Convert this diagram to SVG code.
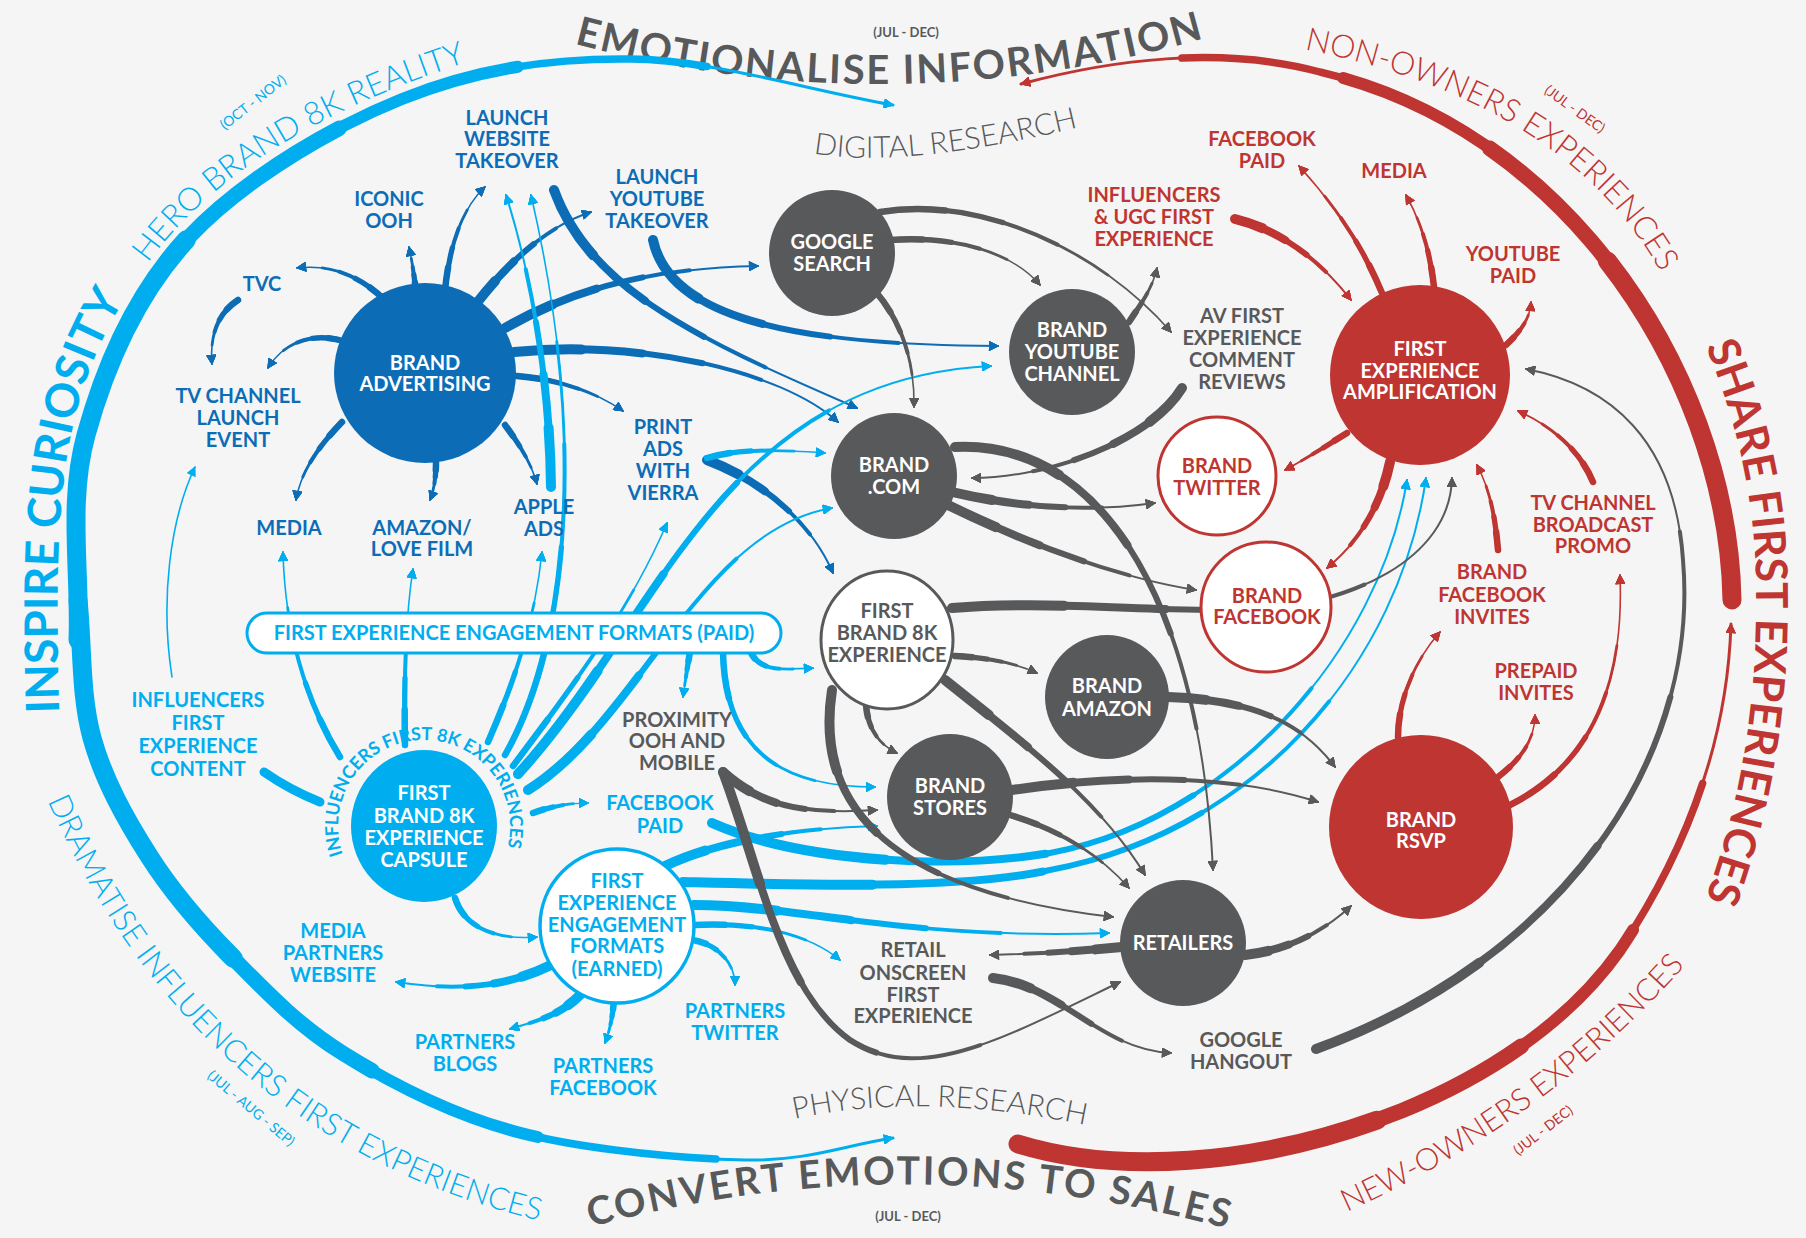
<svg xmlns="http://www.w3.org/2000/svg" xmlns:xlink="http://www.w3.org/1999/xlink" width="1806" height="1238" viewBox="0 0 1806 1238">
<style>
.cn{fill:none;stroke-linecap:round}
.db{stroke:#0c6db6;marker-end:url(#adb)}
.lb{stroke:#00aeef;marker-end:url(#alb)}
.gy{stroke:#58595b;marker-end:url(#agy)}
.rd{stroke:#be3532;marker-end:url(#ard)}
.a{stroke-dasharray:20 200}
.b{stroke-dasharray:38 200}
.c{stroke-dasharray:56 200}
.e{stroke-dasharray:74 200}
.L{stroke-width:2}
.L .a{stroke-width:10}.L .b{stroke-width:8}.L .c{stroke-width:6}.L .e{stroke-width:4}
.M{stroke-width:1.6}
.M .a{stroke-width:6.5}.M .b{stroke-width:5.3}.M .c{stroke-width:4}.M .e{stroke-width:2.8}
.S{stroke-width:1.6}
.X{stroke-width:3}
.X .a{stroke-width:19;stroke-dasharray:36 200}.X .b{stroke-width:15.5;stroke-dasharray:52 200}.X .c{stroke-width:12;stroke-dasharray:68 200}.X .e{stroke-width:7.5;stroke-dasharray:84 200}
.plain{fill:none;stroke:#00aeef;stroke-width:9;stroke-linecap:round}
.t{font-family:Lato,"Open Sans","Liberation Sans",sans-serif;font-weight:700;font-size:20px;text-anchor:middle}
.cap{font-family:Lato,"Open Sans","Liberation Sans",sans-serif}
.fdb{fill:#0c6db6}.flb{fill:#00aeef}.fgy{fill:#58595b}.frd{fill:#be3532}.fwh{fill:#fff}
.ngy{fill:#58595b}
.nrd{fill:#be3532}
</style>
<defs>
<marker id="adb" viewBox="0 0 10 10" refX="9" refY="5" markerWidth="11" markerHeight="10" markerUnits="userSpaceOnUse" orient="auto"><path d="M0,0 L10,5 L0,10 z" fill="#0c6db6"/></marker>
<marker id="alb" viewBox="0 0 10 10" refX="9" refY="5" markerWidth="11" markerHeight="10" markerUnits="userSpaceOnUse" orient="auto"><path d="M0,0 L10,5 L0,10 z" fill="#00aeef"/></marker>
<marker id="agy" viewBox="0 0 10 10" refX="9" refY="5" markerWidth="11" markerHeight="10" markerUnits="userSpaceOnUse" orient="auto"><path d="M0,0 L10,5 L0,10 z" fill="#58595b"/></marker>
<marker id="ard" viewBox="0 0 10 10" refX="9" refY="5" markerWidth="11" markerHeight="10" markerUnits="userSpaceOnUse" orient="auto"><path d="M0,0 L10,5 L0,10 z" fill="#be3532"/></marker>
<!-- baselines for curved captions -->
<path id="tEmo" d="M 575,44 Q 890,127 1205,38"/>
<path id="tConv" d="M 560,1236 Q 905,1132 1260,1238"/>
<path id="tHero" d="M 140,275 C 185,205 280,120 480,58"/>
<path id="tDig" d="M 812,153 Q 900,170 1080,127"/>
<path id="tPhys" d="M 790,1120 Q 920,1090 1090,1126"/>
<path id="tNon" d="M 1298,48 Q 1568,100 1664,278"/>
<path id="tNew" d="M 1340,1215 Q 1545,1125 1690,960"/>
<path id="tDram" d="M 45,795 Q 195,1140 545,1222"/>
<path id="tInsp" d="M 60,740 C 57,640 56,560 62,500 C 68,420 92,340 140,278"/>
<path id="tShare" d="M 1703,340 C 1745,440 1758,520 1756,620 C 1754,730 1735,820 1703,905"/>
<path id="tRing" d="M 349.5,869 A 86 86 0 1 1 502,862.3"/>
</defs>

<rect width="1806" height="1238" fill="#f5f5f5"/>

<!-- stage captions -->
<g id="captions">
<text class="cap" font-size="40" font-weight="700" fill="#58595b" letter-spacing="2"><textPath href="#tEmo" startOffset="50%" text-anchor="middle">EMOTIONALISE INFORMATION</textPath></text>
<text class="cap" font-size="13" font-weight="700" fill="#58595b" x="906" y="37" text-anchor="middle">(JUL - DEC)</text>
<text class="cap" font-size="39" font-weight="700" fill="#58595b" letter-spacing="2.5"><textPath href="#tConv" startOffset="50%" text-anchor="middle">CONVERT EMOTIONS TO SALES</textPath></text>
<text class="cap" font-size="13" font-weight="700" fill="#58595b" x="908" y="1221" text-anchor="middle">(JUL - DEC)</text>
<text class="cap" font-size="32" font-weight="300" fill="#00aeef"><textPath href="#tHero" startOffset="50%" text-anchor="middle">HERO BRAND 8K REALITY</textPath></text>
<text class="cap" font-size="14" font-weight="400" fill="#00aeef" text-anchor="middle" transform="translate(256,106) rotate(-38)">(OCT - NOV)</text>
<text class="cap" font-size="30" font-weight="300" fill="#58595b"><textPath href="#tDig" startOffset="50%" text-anchor="middle">DIGITAL RESEARCH</textPath></text>
<text class="cap" font-size="30" font-weight="300" fill="#58595b"><textPath href="#tPhys" startOffset="50%" text-anchor="middle">PHYSICAL RESEARCH</textPath></text>
<text class="cap" font-size="32" font-weight="300" fill="#be3532"><textPath href="#tNon" startOffset="50%" text-anchor="middle">NON-OWNERS EXPERIENCES</textPath></text>
<text class="cap" font-size="14" font-weight="400" fill="#be3532" text-anchor="middle" transform="translate(1572,113) rotate(36)">(JUL - DEC)</text>
<text class="cap" font-size="31" font-weight="300" fill="#be3532"><textPath href="#tNew" startOffset="50%" text-anchor="middle">NEW-OWNERS EXPERIENCES</textPath></text>
<text class="cap" font-size="14" font-weight="400" fill="#be3532" text-anchor="middle" transform="translate(1546,1134) rotate(-38)">(JUL - DEC)</text>
<text class="cap" font-size="31" font-weight="300" fill="#00aeef"><textPath href="#tDram" startOffset="50%" text-anchor="middle">DRAMATISE INFLUENCERS FIRST EXPERIENCES</textPath></text>
<text class="cap" font-size="14" font-weight="400" fill="#00aeef" text-anchor="middle" transform="translate(248,1112) rotate(40)">(JUL - AUG - SEP)</text>
<text class="cap" font-size="46" font-weight="700" fill="#00aeef"><textPath href="#tInsp" startOffset="50%" text-anchor="middle">INSPIRE CURIOSITY</textPath></text>
<text class="cap" font-size="44" font-weight="700" fill="#be3532"><textPath href="#tShare" startOffset="50%" text-anchor="middle">SHARE FIRST EXPERIENCES</textPath></text>
</g>

<!-- connectors: each one is stacked dashes of falling width, so it tapers toward its arrowhead -->
<g id="connectors">
<!-- outer arcs -->
<g class="cn lb X"><path id="arcT" pathLength="100" d="M 78,640 C 80.7,571.7 67.5,502.2 86,435 C 104.5,367.8 136.3,293 189,237 C 241.7,181 328.3,128.7 402,99 C 475.7,69.3 549.2,58 631,59 C 712.8,60 805.7,89.7 893,105"/><use href="#arcT" class="a"/><use href="#arcT" class="b"/><use href="#arcT" class="c"/><use href="#arcT" class="e"/></g>
<g class="cn lb X"><path id="arcB" pathLength="100" d="M 78,600 C 82.7,646 80.2,695.3 92,738 C 103.8,780.7 126,819.8 149,856 C 172,892.2 197.5,922 230,955 C 262.5,988 296.2,1024.5 344,1054 C 391.8,1083.5 450,1114.3 517,1132 C 584,1149.7 683.3,1159 746,1160 C 808.7,1161 844,1145.3 893,1138"/><use href="#arcB" class="a"/><use href="#arcB" class="b"/><use href="#arcB" class="c"/><use href="#arcB" class="e"/></g>
<g class="cn rd X"><path id="rarcT" pathLength="100" d="M 1732,600 C 1728,380 1570,130 1320,72 C 1220,45 1110,60 1021,84"/><use href="#rarcT" class="a"/><use href="#rarcT" class="b"/><use href="#rarcT" class="c"/><use href="#rarcT" class="e"/></g>
<g class="cn rd X"><path id="rarcB" pathLength="100" d="M 1018,1144 C 1200,1200 1500,1120 1620,950 C 1700,830 1728,720 1731,624"/><use href="#rarcB" class="a"/><use href="#rarcB" class="b"/><use href="#rarcB" class="c"/><use href="#rarcB" class="e"/></g>
<g class="cn gy L"><path id="garc" pathLength="100" d="M 1316,1049 C 1560,960 1700,760 1683,560 C 1675,440 1610,385 1526,369"/><use href="#garc" class="a"/><use href="#garc" class="b"/><use href="#garc" class="c"/><use href="#garc" class="e"/></g>

<!-- brand advertising -->
<g class="cn db M"><path id="b1" pathLength="100" d="M 385,300 Q 345,262 297,268"/><use href="#b1" class="a"/><use href="#b1" class="b"/><use href="#b1" class="c"/><use href="#b1" class="e"/></g>
<g class="cn db M"><path id="b2" pathLength="100" d="M 346,342 C 310,330 282,345 268,368"/><use href="#b2" class="a"/><use href="#b2" class="b"/><use href="#b2" class="c"/><use href="#b2" class="e"/></g>
<g class="cn db M"><path id="b3" pathLength="100" d="M 416,292 Q 413,265 409,247"/><use href="#b3" class="a"/><use href="#b3" class="b"/><use href="#b3" class="c"/><use href="#b3" class="e"/></g>
<g class="cn db M"><path id="b4" pathLength="100" d="M 445,290 C 450,240 465,205 485,187"/><use href="#b4" class="a"/><use href="#b4" class="b"/><use href="#b4" class="c"/><use href="#b4" class="e"/></g>
<g class="cn db L"><path id="b5" pathLength="100" d="M 476,304 C 510,260 550,225 591,212"/><use href="#b5" class="a"/><use href="#b5" class="b"/><use href="#b5" class="c"/><use href="#b5" class="e"/></g>
<g class="cn db L"><path id="b6" pathLength="100" d="M 505,328 C 580,285 660,268 758,266"/><use href="#b6" class="a"/><use href="#b6" class="b"/><use href="#b6" class="c"/><use href="#b6" class="e"/></g>
<g class="cn db L"><path id="b7" pathLength="100" d="M 514,352 C 640,340 780,370 838,422"/><use href="#b7" class="a"/><use href="#b7" class="b"/><use href="#b7" class="c"/><use href="#b7" class="e"/></g>
<g class="cn db M"><path id="b8" pathLength="100" d="M 517,376 C 565,380 600,395 623,411"/><use href="#b8" class="a"/><use href="#b8" class="b"/><use href="#b8" class="c"/><use href="#b8" class="e"/></g>
<g class="cn db M"><path id="b9" pathLength="100" d="M 342,422 C 315,450 300,475 296,500"/><use href="#b9" class="a"/><use href="#b9" class="b"/><use href="#b9" class="c"/><use href="#b9" class="e"/></g>
<g class="cn db M"><path id="b10" pathLength="100" d="M 436,462 Q 436,485 430,500"/><use href="#b10" class="a"/><use href="#b10" class="b"/><use href="#b10" class="c"/><use href="#b10" class="e"/></g>
<g class="cn db M"><path id="b11" pathLength="100" d="M 505,425 C 520,445 532,465 537,484"/><use href="#b11" class="a"/><use href="#b11" class="b"/><use href="#b11" class="c"/><use href="#b11" class="e"/></g>
<g class="cn db M"><path id="b12" pathLength="100" d="M 238,300 C 215,315 210,340 212,364"/><use href="#b12" class="a"/><use href="#b12" class="b"/><use href="#b12" class="c"/><use href="#b12" class="e"/></g>
<g class="cn db L"><path id="b13" pathLength="100" d="M 554,190 C 590,290 700,340 857,408"/><use href="#b13" class="a"/><use href="#b13" class="b"/><use href="#b13" class="c"/><use href="#b13" class="e"/></g>
<g class="cn db L"><path id="b14" pathLength="100" d="M 653,240 C 670,320 800,345 998,346"/><use href="#b14" class="a"/><use href="#b14" class="b"/><use href="#b14" class="c"/><use href="#b14" class="e"/></g>
<g class="cn db L"><path id="b15" pathLength="100" d="M 707,460 C 760,480 810,520 833,573"/><use href="#b15" class="a"/><use href="#b15" class="b"/><use href="#b15" class="c"/><use href="#b15" class="e"/></g>

<!-- first experience formats -->
<g class="cn lb M"><path id="l1" pathLength="100" d="M 707,458 C 740,448 780,450 825,453"/><use href="#l1" class="a"/><use href="#l1" class="b"/><use href="#l1" class="c"/><use href="#l1" class="e"/></g>
<g class="cn lb M"><path id="l2" pathLength="100" d="M 748,645 C 755,672 780,670 813,668"/><use href="#l2" class="a"/><use href="#l2" class="b"/><use href="#l2" class="c"/><use href="#l2" class="e"/></g>
<g class="cn lb M"><path id="l3" pathLength="100" d="M 690,652 Q 686,675 683,697"/><use href="#l3" class="a"/><use href="#l3" class="b"/><use href="#l3" class="c"/><use href="#l3" class="e"/></g>
<g class="cn lb M"><path id="l4" pathLength="100" d="M 723,652 C 725,750 780,787 875,787"/><use href="#l4" class="a"/><use href="#l4" class="b"/><use href="#l4" class="c"/><use href="#l4" class="e"/></g>
<g class="cn lb M"><path id="l5" pathLength="100" d="M 533,813 Q 560,803 588,803"/><use href="#l5" class="a"/><use href="#l5" class="b"/><use href="#l5" class="c"/><use href="#l5" class="e"/></g>
<g class="cn lb M"><path id="l6" pathLength="100" d="M 488,742 C 515,680 535,620 542,552"/><use href="#l6" class="a"/><use href="#l6" class="b"/><use href="#l6" class="c"/><use href="#l6" class="e"/></g>
<g class="cn lb M"><path id="l7" pathLength="100" d="M 505,755 C 565,650 590,450 531,195"/><use href="#l7" class="a"/><use href="#l7" class="b"/><use href="#l7" class="c"/><use href="#l7" class="e"/></g>
<g class="cn lb M"><path id="l8" pathLength="100" d="M 513,766 C 570,690 630,610 667,523"/><use href="#l8" class="a"/><use href="#l8" class="b"/><use href="#l8" class="c"/><use href="#l8" class="e"/></g>
<g class="cn lb L"><path id="l9" pathLength="100" d="M 518,774 C 660,620 720,380 991,366"/><use href="#l9" class="a"/><use href="#l9" class="b"/><use href="#l9" class="c"/><use href="#l9" class="e"/></g>
<g class="cn lb L"><path id="l10" pathLength="100" d="M 528,790 C 640,720 700,530 832,508"/><use href="#l10" class="a"/><use href="#l10" class="b"/><use href="#l10" class="c"/><use href="#l10" class="e"/></g>
<g class="cn lb M"><path id="l11" pathLength="100" d="M 340,757 C 305,700 285,630 283,552"/><use href="#l11" class="a"/><use href="#l11" class="b"/><use href="#l11" class="c"/><use href="#l11" class="e"/></g>
<g class="cn lb M"><path id="l12" pathLength="100" d="M 405,745 C 404,690 405,620 413,569"/><use href="#l12" class="a"/><use href="#l12" class="b"/><use href="#l12" class="c"/><use href="#l12" class="e"/></g>
<path class="plain" d="M 264,772 Q 290,790 320,802"/>
<path class="cn lb S" d="M 172,677 C 160,600 170,520 195,467"/>
<g class="cn lb M"><path id="l15" pathLength="100" d="M 455,898 C 465,930 500,940 537,937"/><use href="#l15" class="a"/><use href="#l15" class="b"/><use href="#l15" class="c"/><use href="#l15" class="e"/></g>
<g class="cn lb L"><path id="l16" pathLength="100" d="M 551,487 C 550,380 530,270 506,195"/><use href="#l16" class="a"/><use href="#l16" class="b"/><use href="#l16" class="c"/><use href="#l16" class="e"/></g>
<g class="cn lb L"><path id="e1" pathLength="100" d="M 551,965 C 500,990 450,990 396,982"/><use href="#e1" class="a"/><use href="#e1" class="b"/><use href="#e1" class="c"/><use href="#e1" class="e"/></g>
<g class="cn lb L"><path id="e2" pathLength="100" d="M 580,995 C 560,1015 540,1020 510,1029"/><use href="#e2" class="a"/><use href="#e2" class="b"/><use href="#e2" class="c"/><use href="#e2" class="e"/></g>
<g class="cn lb M"><path id="e3" pathLength="100" d="M 614,1000 Q 612,1025 605,1043"/><use href="#e3" class="a"/><use href="#e3" class="b"/><use href="#e3" class="c"/><use href="#e3" class="e"/></g>
<g class="cn lb M"><path id="e4" pathLength="100" d="M 693,940 C 720,945 735,965 735,985"/><use href="#e4" class="a"/><use href="#e4" class="b"/><use href="#e4" class="c"/><use href="#e4" class="e"/></g>
<g class="cn lb M"><path id="e5" pathLength="100" d="M 694,925 C 760,922 810,935 840,960"/><use href="#e5" class="a"/><use href="#e5" class="b"/><use href="#e5" class="c"/><use href="#e5" class="e"/></g>
<g class="cn lb L"><path id="e6" pathLength="100" d="M 694,905 C 800,905 900,940 1109,933"/><use href="#e6" class="a"/><use href="#e6" class="b"/><use href="#e6" class="c"/><use href="#e6" class="e"/></g>
<g class="cn lb L"><path id="e7" pathLength="100" d="M 683,882 C 800,885 960,890 1050,870 C 1260,830 1400,660 1426,478"/><use href="#e7" class="a"/><use href="#e7" class="b"/><use href="#e7" class="c"/><use href="#e7" class="e"/></g>
<g class="cn lb L"><path id="e8" pathLength="100" d="M 665,866 C 720,840 800,828 877,826"/><use href="#e8" class="a"/><use href="#e8" class="b"/><use href="#e8" class="c"/><use href="#e8" class="e"/></g>
<g class="cn lb L"><path id="fbp" pathLength="100" d="M 712,823 C 800,862 950,870 1050,853 C 1230,820 1380,650 1407,480"/><use href="#fbp" class="a"/><use href="#fbp" class="b"/><use href="#fbp" class="c"/><use href="#fbp" class="e"/></g>

<!-- research paths -->
<g class="cn gy M"><path id="g1" pathLength="100" d="M 890,240 C 960,235 1015,255 1040,285"/><use href="#g1" class="a"/><use href="#g1" class="b"/><use href="#g1" class="c"/><use href="#g1" class="e"/></g>
<g class="cn gy M"><path id="g2" pathLength="100" d="M 880,212 C 980,195 1100,250 1171,332"/><use href="#g2" class="a"/><use href="#g2" class="b"/><use href="#g2" class="c"/><use href="#g2" class="e"/></g>
<g class="cn gy M"><path id="g3" pathLength="100" d="M 876,292 C 900,320 915,360 914,407"/><use href="#g3" class="a"/><use href="#g3" class="b"/><use href="#g3" class="c"/><use href="#g3" class="e"/></g>
<g class="cn gy M"><path id="g4" pathLength="100" d="M 1129,322 C 1140,305 1152,290 1157,268"/><use href="#g4" class="a"/><use href="#g4" class="b"/><use href="#g4" class="c"/><use href="#g4" class="e"/></g>
<g class="cn gy L"><path id="g5" pathLength="100" d="M 1182,388 C 1150,440 1050,478 972,478"/><use href="#g5" class="a"/><use href="#g5" class="b"/><use href="#g5" class="c"/><use href="#g5" class="e"/></g>
<g class="cn gy L"><path id="g6" pathLength="100" d="M 952,492 C 1020,508 1090,512 1155,503"/><use href="#g6" class="a"/><use href="#g6" class="b"/><use href="#g6" class="c"/><use href="#g6" class="e"/></g>
<g class="cn gy L"><path id="g7" pathLength="100" d="M 948,505 C 1040,550 1130,580 1196,590"/><use href="#g7" class="a"/><use href="#g7" class="b"/><use href="#g7" class="c"/><use href="#g7" class="e"/></g>
<g class="cn gy L"><path id="g8" pathLength="100" d="M 955,447 C 1100,440 1200,600 1213,870"/><use href="#g8" class="a"/><use href="#g8" class="b"/><use href="#g8" class="c"/><use href="#g8" class="e"/></g>
<g class="cn gy L"><path id="g9" pathLength="100" d="M 952,608 C 1050,600 1150,612 1250,610 C 1350,605 1450,560 1452,478"/><use href="#g9" class="a"/><use href="#g9" class="b"/><use href="#g9" class="c"/><use href="#g9" class="e"/></g>
<g class="cn gy M"><path id="g10" pathLength="100" d="M 955,656 C 990,658 1015,663 1037,673"/><use href="#g10" class="a"/><use href="#g10" class="b"/><use href="#g10" class="c"/><use href="#g10" class="e"/></g>
<g class="cn gy M"><path id="g11" pathLength="100" d="M 866,705 C 868,730 880,745 897,753"/><use href="#g11" class="a"/><use href="#g11" class="b"/><use href="#g11" class="c"/><use href="#g11" class="e"/></g>
<g class="cn gy L"><path id="g12" pathLength="100" d="M 945,680 C 1020,740 1100,800 1145,875"/><use href="#g12" class="a"/><use href="#g12" class="b"/><use href="#g12" class="c"/><use href="#g12" class="e"/></g>
<g class="cn gy L"><path id="g13" pathLength="100" d="M 832,690 C 815,800 880,890 1113,917"/><use href="#g13" class="a"/><use href="#g13" class="b"/><use href="#g13" class="c"/><use href="#g13" class="e"/></g>
<g class="cn gy L"><path id="g14" pathLength="100" d="M 1168,697 C 1250,700 1300,720 1335,767"/><use href="#g14" class="a"/><use href="#g14" class="b"/><use href="#g14" class="c"/><use href="#g14" class="e"/></g>
<g class="cn gy L"><path id="g15" pathLength="100" d="M 1012,790 C 1150,770 1250,780 1318,802"/><use href="#g15" class="a"/><use href="#g15" class="b"/><use href="#g15" class="c"/><use href="#g15" class="e"/></g>
<g class="cn gy M"><path id="g16" pathLength="100" d="M 1010,815 C 1060,830 1100,855 1129,888"/><use href="#g16" class="a"/><use href="#g16" class="b"/><use href="#g16" class="c"/><use href="#g16" class="e"/></g>
<g class="cn gy L"><path id="g17" pathLength="100" d="M 1122,947 C 1070,952 1030,954 990,955"/><use href="#g17" class="a"/><use href="#g17" class="b"/><use href="#g17" class="c"/><use href="#g17" class="e"/></g>
<g class="cn gy L"><path id="g18" pathLength="100" d="M 1245,955 C 1290,950 1325,930 1351,906"/><use href="#g18" class="a"/><use href="#g18" class="b"/><use href="#g18" class="c"/><use href="#g18" class="e"/></g>
<g class="cn gy L"><path id="g19" pathLength="100" d="M 993,978 C 1060,985 1100,1050 1171,1053"/><use href="#g19" class="a"/><use href="#g19" class="b"/><use href="#g19" class="c"/><use href="#g19" class="e"/></g>
<g class="cn gy L"><path id="gp1" pathLength="100" d="M 723,772 C 760,805 800,815 877,810"/><use href="#gp1" class="a"/><use href="#gp1" class="b"/><use href="#gp1" class="c"/><use href="#gp1" class="e"/></g>
<g class="cn gy L"><path id="gp2" pathLength="100" d="M 723,772 C 760,870 780,990 850,1040 C 920,1085 1000,1040 1120,982"/><use href="#gp2" class="a"/><use href="#gp2" class="b"/><use href="#gp2" class="c"/><use href="#gp2" class="e"/></g>

<!-- sharing paths -->
<g class="cn rd M"><path id="r1" pathLength="100" d="M 1382,293 C 1360,240 1330,200 1299,166"/><use href="#r1" class="a"/><use href="#r1" class="b"/><use href="#r1" class="c"/><use href="#r1" class="e"/></g>
<g class="cn rd M"><path id="r2" pathLength="100" d="M 1434,287 C 1430,250 1420,220 1406,195"/><use href="#r2" class="a"/><use href="#r2" class="b"/><use href="#r2" class="c"/><use href="#r2" class="e"/></g>
<g class="cn rd L"><path id="r3" pathLength="100" d="M 1235,219 C 1280,230 1320,260 1351,300"/><use href="#r3" class="a"/><use href="#r3" class="b"/><use href="#r3" class="c"/><use href="#r3" class="e"/></g>
<g class="cn rd M"><path id="r4" pathLength="100" d="M 1506,345 C 1522,330 1530,318 1531,302"/><use href="#r4" class="a"/><use href="#r4" class="b"/><use href="#r4" class="c"/><use href="#r4" class="e"/></g>
<g class="cn rd M"><path id="r5" pathLength="100" d="M 1347,433 C 1320,450 1300,462 1285,470"/><use href="#r5" class="a"/><use href="#r5" class="b"/><use href="#r5" class="c"/><use href="#r5" class="e"/></g>
<g class="cn rd L"><path id="r6" pathLength="100" d="M 1390,462 C 1380,510 1355,545 1327,568"/><use href="#r6" class="a"/><use href="#r6" class="b"/><use href="#r6" class="c"/><use href="#r6" class="e"/></g>
<g class="cn rd M"><path id="r7" pathLength="100" d="M 1498,550 C 1495,515 1490,490 1477,465"/><use href="#r7" class="a"/><use href="#r7" class="b"/><use href="#r7" class="c"/><use href="#r7" class="e"/></g>
<g class="cn rd M"><path id="r8" pathLength="100" d="M 1593,482 C 1580,450 1550,425 1518,411"/><use href="#r8" class="a"/><use href="#r8" class="b"/><use href="#r8" class="c"/><use href="#r8" class="e"/></g>
<g class="cn rd M"><path id="r9" pathLength="100" d="M 1398,737 C 1398,700 1415,660 1440,632"/><use href="#r9" class="a"/><use href="#r9" class="b"/><use href="#r9" class="c"/><use href="#r9" class="e"/></g>
<g class="cn rd M"><path id="r10" pathLength="100" d="M 1498,777 C 1520,760 1535,740 1535,715"/><use href="#r10" class="a"/><use href="#r10" class="b"/><use href="#r10" class="c"/><use href="#r10" class="e"/></g>
<g class="cn rd M"><path id="r11" pathLength="100" d="M 1510,805 C 1580,770 1625,700 1620,575"/><use href="#r11" class="a"/><use href="#r11" class="b"/><use href="#r11" class="c"/><use href="#r11" class="e"/></g>
</g>

<!-- nodes -->
<g id="brand-advertising"><ellipse cx="425" cy="373" rx="91" ry="90" fill="#0c6db6"/><text class="t fwh"><tspan x="425" y="370">BRAND</tspan><tspan x="425" y="391">ADVERTISING</tspan></text></g>
<g id="launch-website"><text class="t fdb"><tspan x="507" y="125">LAUNCH</tspan><tspan x="507" y="146">WEBSITE</tspan><tspan x="507" y="168">TAKEOVER</tspan></text></g>
<g id="launch-youtube"><text class="t fdb"><tspan x="657" y="184">LAUNCH</tspan><tspan x="657" y="206">YOUTUBE</tspan><tspan x="657" y="228">TAKEOVER</tspan></text></g>
<g id="iconic-ooh"><text class="t fdb"><tspan x="389" y="206">ICONIC</tspan><tspan x="389" y="228">OOH</tspan></text></g>
<g id="tvc"><text class="t fdb" x="262" y="291">TVC</text></g>
<g id="tv-channel-launch"><text class="t fdb"><tspan x="238" y="403">TV CHANNEL</tspan><tspan x="238" y="425">LAUNCH</tspan><tspan x="238" y="447">EVENT</tspan></text></g>
<g id="media-blue"><text class="t fdb" x="289" y="535">MEDIA</text></g>
<g id="amazon-lovefilm"><text class="t fdb"><tspan x="422" y="535">AMAZON/</tspan><tspan x="422" y="556">LOVE FILM</tspan></text></g>
<g id="apple-ads"><text class="t fdb"><tspan x="544" y="514">APPLE</tspan><tspan x="544" y="536">ADS</tspan></text></g>
<g id="print-ads"><text class="t fdb"><tspan x="663" y="434">PRINT</tspan><tspan x="663" y="456">ADS</tspan><tspan x="663" y="478">WITH</tspan><tspan x="663" y="500">VIERRA</tspan></text></g>

<g id="formats-paid"><rect x="247" y="613" width="534" height="40" rx="20" fill="#fff" stroke="#00aeef" stroke-width="3"/><text class="t flb" x="514" y="640">FIRST EXPERIENCE ENGAGEMENT FORMATS (PAID)</text></g>
<g id="influencers-content"><text class="t flb"><tspan x="198" y="707">INFLUENCERS</tspan><tspan x="198" y="730">FIRST</tspan><tspan x="198" y="753">EXPERIENCE</tspan><tspan x="198" y="776">CONTENT</tspan></text></g>
<g id="capsule"><ellipse cx="424" cy="826" rx="73" ry="76" fill="#00aeef"/><text class="t fwh"><tspan x="424" y="800">FIRST</tspan><tspan x="424" y="823">BRAND 8K</tspan><tspan x="424" y="845">EXPERIENCE</tspan><tspan x="424" y="867">CAPSULE</tspan></text><text class="cap flb" font-size="18" font-weight="700"><textPath href="#tRing" startOffset="50%" text-anchor="middle">INFLUENCERS FIRST 8K EXPERIENCES</textPath></text></g>
<g id="facebook-paid-blue"><text class="t flb"><tspan x="660" y="810">FACEBOOK</tspan><tspan x="660" y="833">PAID</tspan></text></g>
<g id="formats-earned"><ellipse cx="617" cy="926" rx="77" ry="77" fill="#fff" stroke="#00aeef" stroke-width="3.5"/><text class="t flb" font-size="19"><tspan x="617" y="888">FIRST</tspan><tspan x="617" y="910">EXPERIENCE</tspan><tspan x="617" y="932">ENGAGEMENT</tspan><tspan x="617" y="953">FORMATS</tspan><tspan x="617" y="976">(EARNED)</tspan></text></g>
<g id="media-partners"><text class="t flb"><tspan x="333" y="938">MEDIA</tspan><tspan x="333" y="960">PARTNERS</tspan><tspan x="333" y="982">WEBSITE</tspan></text></g>
<g id="partners-blogs"><text class="t flb"><tspan x="465" y="1049">PARTNERS</tspan><tspan x="465" y="1071">BLOGS</tspan></text></g>
<g id="partners-facebook"><text class="t flb"><tspan x="603" y="1073">PARTNERS</tspan><tspan x="603" y="1095">FACEBOOK</tspan></text></g>
<g id="partners-twitter"><text class="t flb"><tspan x="735" y="1018">PARTNERS</tspan><tspan x="735" y="1040">TWITTER</tspan></text></g>

<g id="proximity"><text class="t fgy"><tspan x="677" y="727">PROXIMITY</tspan><tspan x="677" y="748">OOH AND</tspan><tspan x="677" y="770">MOBILE</tspan></text></g>
<g id="google-search"><circle cx="832" cy="253" r="63" class="ngy"/><text class="t fwh"><tspan x="832" y="249">GOOGLE</tspan><tspan x="832" y="271">SEARCH</tspan></text></g>
<g id="brand-youtube"><circle cx="1072" cy="352" r="63" class="ngy"/><text class="t fwh"><tspan x="1072" y="337">BRAND</tspan><tspan x="1072" y="359">YOUTUBE</tspan><tspan x="1072" y="381">CHANNEL</tspan></text></g>
<g id="brand-com"><circle cx="894" cy="476" r="63" class="ngy"/><text class="t fwh"><tspan x="894" y="472">BRAND</tspan><tspan x="894" y="494">.COM</tspan></text></g>
<g id="first-brand-8k"><ellipse cx="887" cy="640" rx="66" ry="69" fill="#fff" stroke="#58595b" stroke-width="3"/><text class="t fgy"><tspan x="887" y="618">FIRST</tspan><tspan x="887" y="640">BRAND 8K</tspan><tspan x="887" y="662">EXPERIENCE</tspan></text></g>
<g id="brand-amazon"><circle cx="1107" cy="697" r="62" class="ngy"/><text class="t fwh"><tspan x="1107" y="693">BRAND</tspan><tspan x="1107" y="716">AMAZON</tspan></text></g>
<g id="brand-stores"><circle cx="950" cy="797" r="63" class="ngy"/><text class="t fwh"><tspan x="950" y="793">BRAND</tspan><tspan x="950" y="815">STORES</tspan></text></g>
<g id="retailers"><circle cx="1183" cy="943" r="63" class="ngy"/><text class="t fwh" x="1183" y="950">RETAILERS</text></g>
<g id="av-first"><text class="t fgy"><tspan x="1242" y="323">AV FIRST</tspan><tspan x="1242" y="345">EXPERIENCE</tspan><tspan x="1242" y="367">COMMENT</tspan><tspan x="1242" y="389">REVIEWS</tspan></text></g>
<g id="retail-onscreen"><text class="t fgy"><tspan x="913" y="957">RETAIL</tspan><tspan x="913" y="980">ONSCREEN</tspan><tspan x="913" y="1002">FIRST</tspan><tspan x="913" y="1023">EXPERIENCE</tspan></text></g>
<g id="google-hangout"><text class="t fgy"><tspan x="1241" y="1047">GOOGLE</tspan><tspan x="1241" y="1069">HANGOUT</tspan></text></g>

<g id="amplification"><circle cx="1420" cy="375" r="90" class="nrd"/><text class="t fwh"><tspan x="1420" y="356">FIRST</tspan><tspan x="1420" y="378">EXPERIENCE</tspan><tspan x="1420" y="399">AMPLIFICATION</tspan></text></g>
<g id="brand-twitter"><circle cx="1217" cy="476" r="59" fill="#fff" stroke="#be3532" stroke-width="3"/><text class="t frd"><tspan x="1217" y="473">BRAND</tspan><tspan x="1217" y="495">TWITTER</tspan></text></g>
<g id="brand-facebook"><circle cx="1266" cy="607" r="65" fill="#fff" stroke="#be3532" stroke-width="3"/><text class="t frd"><tspan x="1267" y="603">BRAND</tspan><tspan x="1267" y="624">FACEBOOK</tspan></text></g>
<g id="brand-rsvp"><circle cx="1421" cy="827" r="92" class="nrd"/><text class="t fwh"><tspan x="1421" y="827">BRAND</tspan><tspan x="1421" y="848">RSVP</tspan></text></g>
<g id="facebook-paid-red"><text class="t frd"><tspan x="1262" y="146">FACEBOOK</tspan><tspan x="1262" y="168">PAID</tspan></text></g>
<g id="media-red"><text class="t frd" x="1394" y="178">MEDIA</text></g>
<g id="influencers-ugc"><text class="t frd"><tspan x="1154" y="202">INFLUENCERS</tspan><tspan x="1154" y="224">&amp; UGC FIRST</tspan><tspan x="1154" y="246">EXPERIENCE</tspan></text></g>
<g id="youtube-paid"><text class="t frd"><tspan x="1513" y="261">YOUTUBE</tspan><tspan x="1513" y="283">PAID</tspan></text></g>
<g id="tv-broadcast"><text class="t frd"><tspan x="1593" y="510">TV CHANNEL</tspan><tspan x="1593" y="532">BROADCAST</tspan><tspan x="1593" y="553">PROMO</tspan></text></g>
<g id="facebook-invites"><text class="t frd"><tspan x="1492" y="579">BRAND</tspan><tspan x="1492" y="602">FACEBOOK</tspan><tspan x="1492" y="624">INVITES</tspan></text></g>
<g id="prepaid-invites"><text class="t frd"><tspan x="1536" y="678">PREPAID</tspan><tspan x="1536" y="700">INVITES</tspan></text></g>
</svg>
